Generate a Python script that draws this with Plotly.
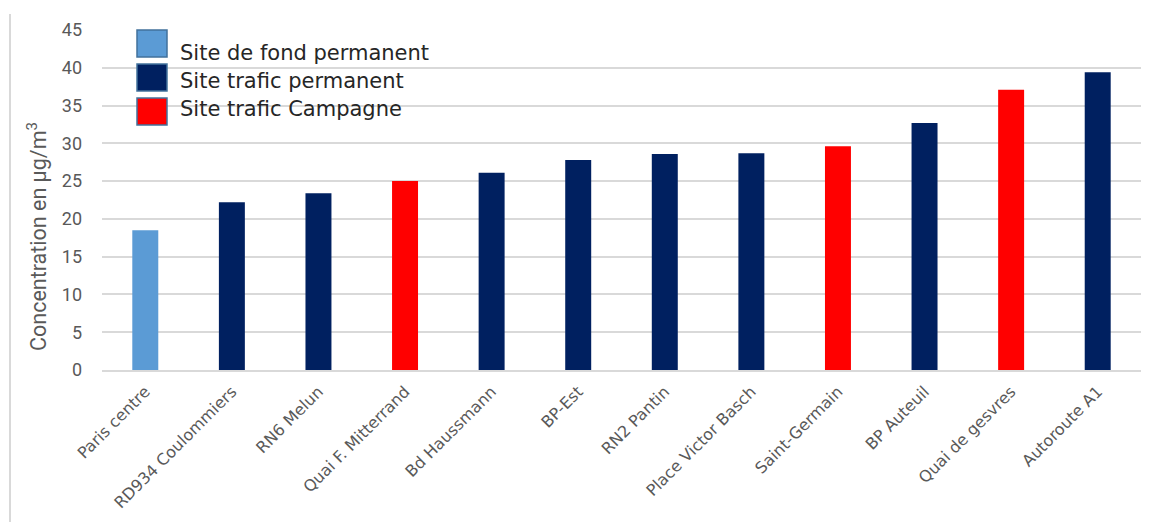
import plotly.graph_objects as go

sites = ["Paris centre", "RD934 Coulommiers", "RN6 Melun", "Quai F. Mitterrand",
         "Bd Haussmann", "BP-Est", "RN2 Pantin", "Place Victor Basch",
         "Saint-Germain", "BP Auteuil", "Quai de gesvres", "Autoroute A1"]
values = [18.5, 22.2, 23.4, 25.0, 26.1, 27.8, 28.6, 28.7, 29.6, 32.7, 37.1, 39.4]
site_types = ["fond", "trafic", "trafic", "campagne", "trafic", "trafic", "trafic",
              "trafic", "campagne", "trafic", "campagne", "trafic"]
legend_labels = ["Site de fond permanent", "Site trafic permanent", "Site trafic Campagne"]
type_keys = ["fond", "trafic", "campagne"]
colors = {"fond": "#5B9BD5", "trafic": "#002060", "campagne": "#FF0000"}
y_ticks = [0, 5, 10, 15, 20, 25, 30, 35, 40, 45]

# page has an 8px body margin: figure origin at (8, 8)
OFF = 8
W, H = 1143, 514
L, R, T, B = 102 - OFF, 10, 30 - OFF, 152
pw, ph = W - L - R, H - T - B


def px2x(px):  # page px -> paper x
    return (px - OFF - L) / pw


def py2y(py):  # page px -> paper y
    return 1 - (py - OFF - T) / ph


fig = go.Figure()
fig.add_trace(go.Bar(
    x=sites, y=values,
    marker=dict(color=[colors[t] for t in site_types], line=dict(width=0)),
    showlegend=False,
))

# custom legend (large swatches as in the reference)
sw_tops = [30, 64, 98]
text_centers = [53, 81, 109]
for k, lab, top, tc in zip(type_keys, legend_labels, sw_tops, text_centers):
    fig.add_shape(type="rect", xref="paper", yref="paper",
                  x0=px2x(137), x1=px2x(167), y0=py2y(top + 27), y1=py2y(top),
                  fillcolor=colors[k], line=dict(color="#41719C", width=1.5))
    fig.add_annotation(xref="paper", yref="paper", x=px2x(178), y=py2y(tc),
                       text=lab, showarrow=False, xanchor="left", yanchor="middle",
                       font=dict(family="DejaVu Sans", size=21, color="#262626"))

# y-axis title
fig.add_annotation(xref="paper", yref="paper", x=px2x(37), y=py2y(237),
                   text="Concentration en µg/m<sup>3</sup>", textangle=-90,
                   showarrow=False, xanchor="center", yanchor="middle",
                   font=dict(family="Roboto", size=21.5, color="#595959"))

# left border line of the picture frame
fig.add_shape(type="line", xref="paper", yref="paper",
              x0=px2x(10), x1=px2x(10), y0=py2y(14), y1=py2y(530),
              line=dict(color="#D9D9D9", width=2))

fig.update_layout(
    width=W, height=H,
    margin=dict(l=L, r=R, t=T, b=B),
    paper_bgcolor="white", plot_bgcolor="white",
    bargap=0.7,
    font=dict(family="DejaVu Sans", color="#595959"),
    xaxis=dict(tickangle=-45, tickfont=dict(size=16, color="#595959"),
               showline=True, linecolor="#D9D9D9", linewidth=2,
               ticks="", automargin=False, ticklabelstandoff=4),
    yaxis=dict(range=[0, 45], tickvals=y_ticks, showgrid=True,
               gridcolor="#D9D9D9", gridwidth=1.5, zeroline=False,
               tickfont=dict(size=18, color="#595959", family="Roboto"),
               ticklabelstandoff=19, automargin=False),
)

fig.write_html("out.html")
